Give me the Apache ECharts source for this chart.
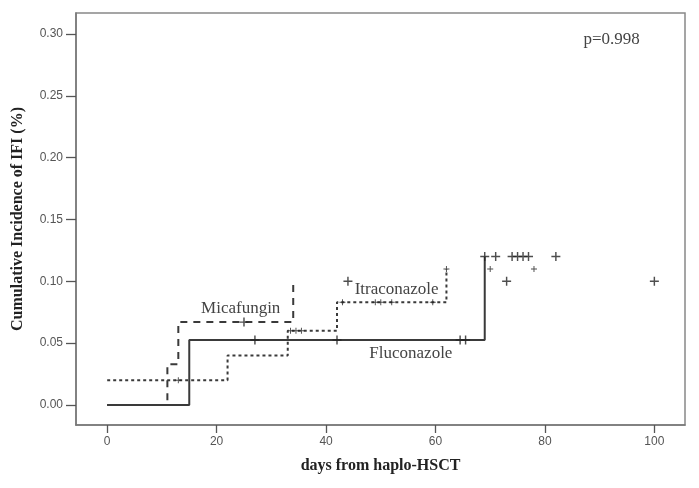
<!DOCTYPE html>
<html>
<head>
<meta charset="utf-8">
<script src="https://cdn.jsdelivr.net/npm/echarts@6/dist/echarts.min.js"></script>
<style>
html,body{margin:0;padding:0;background:#fff;}
#chart{width:699px;height:488px;}
</style>
</head>
<body>
<div id="chart"></div>
<script>
// Step curves (time, cumulative incidence)
const flucoTimes = [0, 15, 69];
const flucoValues = [0, 0.0525, 0.12];
const micaTimes = [0, 11, 13, 34];
const micaValues = [0, 0.033, 0.067, 0.10];
const itraTimes = [0, 22, 33, 42, 62];
const itraValues = [0.02, 0.04, 0.06, 0.083, 0.11];

// Censor marks
const flucoCensorTimes = [27, 42, 64.5, 65.5, 69, 71, 74, 75, 76, 77, 82];
const flucoCensorValues = [0.0525, 0.0525, 0.0525, 0.0525, 0.12, 0.12, 0.12, 0.12, 0.12, 0.12, 0.12];
const micaCensorTimes = [25, 44, 73, 100];
const micaCensorValues = [0.067, 0.10, 0.10, 0.10];
const itraCensorTimes = [13, 33.5, 34.5, 35.5, 43, 49, 50, 52, 59.5, 62, 70, 78];
const itraCensorValues = [0.02, 0.06, 0.06, 0.06, 0.083, 0.083, 0.083, 0.083, 0.083, 0.11, 0.11, 0.11];

const xTicks = [0, 20, 40, 60, 80, 100];
const yTicks = [0, 0.05, 0.10, 0.15, 0.20, 0.25, 0.30];

const labels = [
  {text: 'Micafungin', x: 24.4, y: 0.0776},
  {text: 'Itraconazole', x: 52.9, y: 0.093},
  {text: 'Fluconazole', x: 55.5, y: 0.042},
  {text: 'p=0.998', x: 92.2, y: 0.2957}
];

const pair = (t, v) => t.map((x, i) => [x, v[i]]);
const plus = 'path://M-0.8,-5 H0.8 V-0.8 H5 V0.8 H0.8 V5 H-0.8 V0.8 H-5 V-0.8 H-0.8 Z';
const lineCol = '#3a3a3a';
const serif = '"Liberation Serif", "DejaVu Serif", serif';

const chart = echarts.init(document.getElementById('chart'), null, {renderer: 'canvas'});
chart.setOption({
  animation: false,
  backgroundColor: '#fff',
  grid: {left: 76, right: 14, top: 13, bottom: 63, show: true, borderColor: '#888', borderWidth: 1.5, backgroundColor: '#fff'},
  xAxis: {
    type: 'value', min: -5.7, max: 105.6,
    name: 'days from haplo-HSCT', nameLocation: 'middle', nameGap: 33,
    nameTextStyle: {fontFamily: serif, fontWeight: 'bold', fontSize: 16, color: '#222'},
    axisLine: {show: true, onZero: false, lineStyle: {color: '#777', width: 1.5}},
    axisTick: {show: true, length: 8, lineStyle: {color: '#555', width: 1.3}, customValues: xTicks},
    axisLabel: {customValues: xTicks, margin: 11, fontFamily: '"Liberation Sans", sans-serif', fontSize: 12, color: '#555'},
    splitLine: {show: false}
  },
  yAxis: {
    type: 'value', min: -0.0162, max: 0.317,
    name: 'Cumulative Incidence of IFI (%)', nameLocation: 'middle', nameGap: 50, nameRotate: 90,
    nameTextStyle: {fontFamily: serif, fontWeight: 'bold', fontSize: 16, color: '#222'},
    axisLine: {show: true, onZero: false, lineStyle: {color: '#777', width: 1.5}},
    axisTick: {show: true, length: 10, lineStyle: {color: '#555', width: 1.3}, customValues: yTicks},
    axisLabel: {customValues: yTicks, margin: 13, fontFamily: '"Liberation Sans", sans-serif', fontSize: 12, color: '#555',
      formatter: v => v.toFixed(2)},
    splitLine: {show: false}
  },
  series: [
    {name: 'Fluconazole', type: 'line', step: 'end', data: pair(flucoTimes, flucoValues), symbol: 'none',
      lineStyle: {color: lineCol, width: 2, type: 'solid'}, z: 3},
    {name: 'Micafungin', type: 'line', step: 'end', data: pair(micaTimes, micaValues), symbol: 'none',
      lineStyle: {color: lineCol, width: 2, type: [7, 6]}, z: 2},
    {name: 'Itraconazole', type: 'line', step: 'end', data: pair(itraTimes, itraValues), symbol: 'none',
      lineStyle: {color: lineCol, width: 2, type: [3, 3]}, z: 2},
    {name: 'FlucoCensor', type: 'scatter', data: pair(flucoCensorTimes, flucoCensorValues), symbol: plus, symbolSize: 9,
      itemStyle: {color: '#222'}, z: 4},
    {name: 'MicaCensor', type: 'scatter', data: pair(micaCensorTimes, micaCensorValues), symbol: plus, symbolSize: 9,
      itemStyle: {color: '#222'}, z: 4},
    {name: 'ItraCensor', type: 'scatter', data: pair(itraCensorTimes, itraCensorValues), symbol: plus, symbolSize: 6,
      itemStyle: {color: '#222'}, z: 4}
  ]
});

const g = labels.map(l => {
  const p = chart.convertToPixel({gridIndex: 0}, [l.x, l.y]);
  return {type: 'text', x: p[0], y: p[1], z: 10,
    style: {text: l.text, fontFamily: serif, fontSize: 17, fill: '#444', align: 'center', verticalAlign: 'middle'}};
});
chart.setOption({graphic: g});
</script>
</body>
</html>
